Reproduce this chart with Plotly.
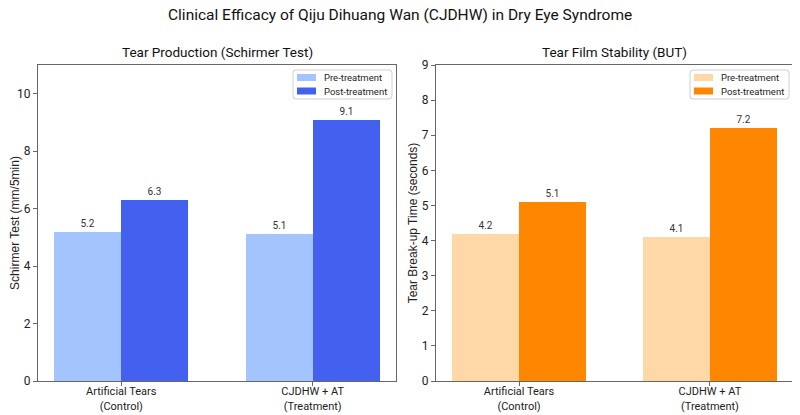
import plotly.graph_objects as go

categories = ["Artificial Tears<br>(Control)", "CJDHW + AT<br>(Treatment)"]
series_names = ["Pre-treatment", "Post-treatment"]
schirmer_pre = [5.2, 5.1]
schirmer_post = [6.3, 9.1]
but_pre = [4.2, 4.1]
but_post = [5.1, 7.2]

blue_light = "#a3c4fc"
blue_dark = "#4361ee"
orange_light = "#ffd8a8"
orange_dark = "#ff8600"

FONT = "Roboto"
x_pos = [0, 1]
W = 0.35

# page body has an 8px margin: figure drawn 8px right/down of the window corner
OFF = 8
FW, FH = 800 - OFF, 415 - OFF
L, R, T, B = 38 - OFF, FW - (793 - OFF), 65 - OFF, FH - (381 - OFF)
PW = FW - L - R
PH = FH - T - B


def px(x):
    return (x - OFF - L) / PW


def py(y):
    return (FH - B - (y - OFF)) / PH


fig = go.Figure()


def add_bars(pre, post, c_pre, c_post, xa, ya):
    for vals, col, name, off in ((pre, c_pre, series_names[0], -W),
                                 (post, c_post, series_names[1], 0)):
        fig.add_trace(go.Bar(x=x_pos, y=vals, width=W, offset=off, name=name,
                             marker=dict(color=col, line=dict(width=0)),
                             text=[f"{v:.1f}" for v in vals], textposition="outside",
                             textfont=dict(size=10, color="#333", family=FONT),
                             cliponaxis=False, showlegend=False,
                             xaxis=xa, yaxis=ya))


add_bars(schirmer_pre, schirmer_post, blue_light, blue_dark, "x", "y")
add_bars(but_pre, but_post, orange_light, orange_dark, "x2", "y2")

shapes = []
annotations = []


def rounded_box(x0, y0, x1, y1, r=3):
    X = lambda v: px(v)
    Y = lambda v: py(v)
    p = (f"M {X(x0 + r)},{Y(y0)} L {X(x1 - r)},{Y(y0)} Q {X(x1)},{Y(y0)} {X(x1)},{Y(y0 + r)} "
         f"L {X(x1)},{Y(y1 - r)} Q {X(x1)},{Y(y1)} {X(x1 - r)},{Y(y1)} "
         f"L {X(x0 + r)},{Y(y1)} Q {X(x0)},{Y(y1)} {X(x0)},{Y(y1 - r)} "
         f"L {X(x0)},{Y(y0 + r)} Q {X(x0)},{Y(y0)} {X(x0 + r)},{Y(y0)} Z")
    return dict(type="path", path=p, xref="paper", yref="paper",
                line=dict(color="#d0d0d0", width=1), fillcolor="rgba(255,255,255,0.8)")


def add_legend(x_right, colors):
    x0 = x_right - 99
    shapes.append(rounded_box(x0, 70, x_right, 99))
    for i, (name, col) in enumerate(zip(series_names, colors)):
        yc = 77.5 + i * 13.5
        shapes.append(dict(type="rect", xref="paper", yref="paper",
                           x0=px(x0 + 4), x1=px(x0 + 23), y0=py(yc + 3.5), y1=py(yc - 3.5),
                           fillcolor=col, line=dict(width=0)))
        annotations.append(dict(text=name, x=px(x0 + 29), y=py(yc), xref="paper", yref="paper",
                                showarrow=False, xanchor="left", yanchor="middle",
                                font=dict(size=9.5, family=FONT, color="#222")))


add_legend(392, [blue_light, blue_dark])
add_legend(789, [orange_light, orange_dark])

axis_common = dict(showline=True, linecolor="#666", linewidth=1, mirror=True,
                   ticks="outside", ticklen=4, tickcolor="#666",
                   showgrid=False, zeroline=False, automargin=False)

xtick_font = dict(size=11, color="#222", family=FONT)
ytick_font = dict(size=12, color="#222", family=FONT)
ytitle_font = dict(family="Liberation Sans, Arial", size=12, color="#222")

annotations += [
    dict(text="Clinical Efficacy of Qiju Dihuang Wan (CJDHW) in Dry Eye Syndrome",
         x=px(400), y=py(15), xref="paper", yref="paper", showarrow=False,
         xanchor="center", yanchor="middle", font=dict(size=15.5, family=FONT, color="#111")),
    dict(text="Tear Production (Schirmer Test)", x=px((38 + 396) / 2), y=py(52),
         xref="paper", yref="paper", showarrow=False, xanchor="center", yanchor="middle",
         font=dict(size=13.5, family=FONT, color="#111")),
    dict(text="Tear Film Stability (BUT)", x=px((436 + 793) / 2), y=py(52),
         xref="paper", yref="paper", showarrow=False, xanchor="center", yanchor="middle",
         font=dict(size=13.5, family=FONT, color="#111")),
]

fig.update_layout(
    width=FW, height=FH,
    margin=dict(l=L, r=R, t=T, b=B, autoexpand=False),
    paper_bgcolor="white", plot_bgcolor="white",
    font=dict(family=FONT, color="#222"),
    bargap=0,
    showlegend=False,
    xaxis=dict(domain=[0, px(396)], range=[-0.435, 1.435], tickvals=x_pos,
               ticktext=categories, anchor="y", tickfont=xtick_font,
               ticklabelstandoff=-4, **axis_common),
    yaxis=dict(domain=[0, 1], range=[0, 11], tickvals=[0, 2, 4, 6, 8, 10], anchor="x",
               tickfont=ytick_font,
               title=dict(text="Schirmer Test (mm/5min)", standoff=6, font=ytitle_font),
               **axis_common),
    xaxis2=dict(domain=[px(436), 1], range=[-0.435, 1.435], tickvals=x_pos,
                ticktext=categories, anchor="y2", tickfont=xtick_font,
                ticklabelstandoff=-4, **axis_common),
    yaxis2=dict(domain=[0, 1], range=[0, 9], tickvals=list(range(10)), anchor="x2",
                tickfont=ytick_font,
                title=dict(text="Tear Break-up Time (seconds)", standoff=1, font=ytitle_font),
                **axis_common),
    shapes=shapes,
    annotations=annotations,
)

fig.write_html("out.html")
